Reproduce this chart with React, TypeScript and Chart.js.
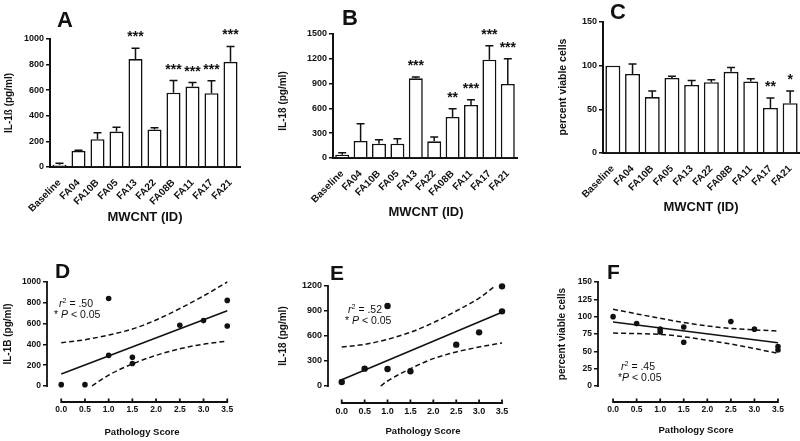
import React, { useEffect, useRef } from "react";
import { Chart, registerables } from "chart.js";
Chart.register(...registerables);

const FONT = "'Liberation Sans', Arial, Helvetica, sans-serif";
Chart.defaults.font.family = FONT;
const INK = "#111";

// ---------- Data: bar panels ----------
const categories = ["Baseline", "FA04", "FA10B", "FA05", "FA13", "FA22", "FA08B", "FA11", "FA17", "FA21"];

const il1bMean = [18, 126, 217, 277, 843, 293, 581, 628, 576, 822];
const il1bErr = [11, 4, 50, 34, 84, 13, 94, 32, 97, 120];
const il1bStars = ["", "", "", "", "***", "", "***", "***", "***", "***"];
const il1bTicks = [0, 200, 400, 600, 800, 1000];

const il18Mean = [40, 206, 173, 173, 964, 202, 496, 641, 1190, 895];
const il18Err = [25, 209, 49, 61, 16, 52, 101, 65, 169, 307];
const il18Stars = ["", "", "", "", "***", "", "**", "***", "***", "***"];
const il18Ticks = [0, 300, 600, 900, 1200, 1500];

const viabMean = [100, 90.5, 64, 86, 78, 81, 93, 82, 51.5, 57];
const viabErr = [0, 11.5, 7, 2, 5, 3, 5, 3, 11.5, 14];
const viabStars = ["", "", "", "", "", "", "", "", "**", "*"];
const viabTicks = [0, 50, 100, 150];

// ---------- Data: scatter panels ----------
const scoreTicks = [0, 0.5, 1, 1.5, 2, 2.5, 3, 3.5];

const scoreD = [0, 0.5, 1, 1, 1.5, 1.5, 2.5, 3, 3.5, 3.5];
const il1bD = [13, 13, 842, 294, 277, 216, 584, 629, 823, 577];
const fitDx = [0, 3.5];
const fitDy = [116, 723];
const upperDx = [0, 0.5, 1, 1.5, 2, 2.5, 3, 3.5];
const upperDy = [416, 445, 490, 548, 635, 745, 866, 1000];
const lowerDx = [0.65, 1, 1.5, 2, 2.5, 3, 3.5];
const lowerDy = [0, 105, 212, 295, 358, 402, 432];
const ticksD = [0, 200, 400, 600, 800, 1000];

const scoreE = [0, 0.5, 1, 1, 1.5, 2.5, 3, 3.5, 3.5];
const il18E = [48, 208, 960, 204, 176, 496, 644, 1196, 896];
const fitEx = [0, 3.5];
const fitEy = [76, 884];
const upperEx = [0, 0.5, 1, 1.5, 2, 2.5, 3, 3.35];
const upperEy = [468, 500, 560, 645, 760, 900, 1055, 1200];
const lowerEx = [0.85, 1, 1.5, 2, 2.5, 3, 3.5];
const lowerEy = [0, 60, 208, 328, 408, 468, 516];
const ticksE = [0, 300, 600, 900, 1200];

const scoreF = [0, 0.5, 1, 1, 1.5, 1.5, 2.5, 3, 3.5, 3.5];
const viabF = [100, 90, 82, 78, 85, 63, 93, 82, 57, 52];
const fitFx = [0, 3.5];
const fitFy = [92.4, 62.4];
const upperFx = [0, 0.5, 1, 1.5, 2, 2.5, 3, 3.5];
const upperFy = [110.8, 104, 97.7, 91.5, 86.6, 83, 81, 79.3];
const lowerFx = [0, 0.5, 1, 1.5, 2, 2.5, 3, 3.5];
const lowerFy = [76.4, 75.6, 74.5, 71, 66, 60.5, 54, 47];
const ticksF = [0, 25, 50, 75, 100, 125, 150];

// ---------- helpers ----------
const W = 800;
const H = 441;
const zip = (xs: number[], ys: number[]) => xs.map((x, i) => ({ x, y: ys[i] }));

type Area = { left: number; top: number; right: number; bottom: number };
const pad = (a: Area, yW: number, xH: number) => ({
  left: a.left - yW,
  top: a.top,
  right: W - a.right,
  bottom: H - a.bottom - xH,
});

type Seg = { t: string; italic?: boolean; sup?: boolean };
type TextItem = {
  text?: string;
  segs?: Seg[];
  x: number;
  y: number;
  size: number;
  bold?: boolean;
  align?: CanvasTextAlign;
  baseline?: CanvasTextBaseline;
  rot?: number;
};

const textPlugin = (items: TextItem[]) => ({
  id: "texts",
  afterDraw(chart: any) {
    const ctx = chart.ctx as CanvasRenderingContext2D;
    items.forEach((it) => {
      ctx.save();
      ctx.fillStyle = INK;
      ctx.translate(it.x, it.y);
      if (it.rot) ctx.rotate(it.rot);
      ctx.textAlign = it.align || "left";
      ctx.textBaseline = it.baseline || "alphabetic";
      if (it.text) {
        ctx.font = `${it.bold ? "bold " : ""}${it.size}px ${FONT}`;
        ctx.fillText(it.text, 0, 0);
      } else if (it.segs) {
        let cx = 0;
        it.segs.forEach((s) => {
          const size = s.sup ? it.size * 0.68 : it.size;
          ctx.font = `${s.italic ? "italic " : ""}${size}px ${FONT}`;
          ctx.textAlign = "left";
          ctx.fillText(s.t, cx, s.sup ? -it.size * 0.4 : 0);
          cx += ctx.measureText(s.t).width;
        });
      }
      ctx.restore();
    });
  },
});

const errorPlugin = (err: number[], stars: string[]) => ({
  id: "errbars",
  afterDatasetsDraw(chart: any) {
    const ctx = chart.ctx as CanvasRenderingContext2D;
    const meta = chart.getDatasetMeta(0);
    const ys = chart.scales.y;
    const vals = chart.data.datasets[0].data as number[];
    ctx.save();
    ctx.strokeStyle = INK;
    ctx.fillStyle = INK;
    ctx.lineWidth = 1.5;
    meta.data.forEach((bar: any, i: number) => {
      const top = ys.getPixelForValue(vals[i] + err[i]);
      if (err[i] > 0) {
        ctx.beginPath();
        ctx.moveTo(bar.x, bar.y);
        ctx.lineTo(bar.x, top);
        ctx.moveTo(bar.x - 4, top);
        ctx.lineTo(bar.x + 4, top);
        ctx.stroke();
      }
      if (stars[i]) {
        ctx.font = `bold 14px ${FONT}`;
        ctx.textAlign = "center";
        ctx.textBaseline = "alphabetic";
        ctx.fillText(stars[i], bar.x, top - 7);
      }
    });
    ctx.restore();
  },
});

const scatterAxes = (yMax: number) => ({
  id: "scatterAxes",
  afterDraw(chart: any) {
    const ctx = chart.ctx as CanvasRenderingContext2D;
    const { chartArea, scales } = chart;
    const x = scales.x;
    const y = scales.y;
    ctx.save();
    ctx.strokeStyle = INK;
    ctx.lineWidth = 1.8;
    ctx.beginPath();
    ctx.moveTo(chartArea.left, y.getPixelForValue(0) + 0.9);
    ctx.lineTo(chartArea.left, y.getPixelForValue(yMax) - 0.9);
    const yb = chartArea.bottom;
    ctx.moveTo(x.getPixelForValue(scoreTicks[0]) - 0.9, yb);
    ctx.lineTo(x.getPixelForValue(scoreTicks[scoreTicks.length - 1]) + 0.9, yb);
    scoreTicks.forEach((v) => {
      const px = x.getPixelForValue(v);
      ctx.moveTo(px, yb);
      ctx.lineTo(px, yb - 3.5);
    });
    ctx.stroke();
    ctx.restore();
  },
});

const plain = (v: any) => String(v);

function barConfig(p: {
  mean: number[];
  err: number[];
  stars: string[];
  ticks: number[];
  area: Area;
  barPct: number;
  texts: TextItem[];
}) {
  const max = p.ticks[p.ticks.length - 1];
  return {
    type: "bar",
    data: {
      labels: categories,
      datasets: [
        {
          data: p.mean,
          backgroundColor: "#ffffff",
          borderColor: INK,
          borderWidth: 1.6,
          borderSkipped: "bottom",
          barPercentage: p.barPct,
          categoryPercentage: 1,
        },
      ],
    },
    options: {
      responsive: false,
      animation: false,
      events: [],
      layout: { padding: pad(p.area, 30, 50) },
      plugins: { legend: { display: false }, tooltip: { enabled: false } },
      scales: {
        x: {
          grid: { display: false },
          border: { display: true, color: INK, width: 2 },
          ticks: {
            color: INK,
            font: { size: 10, weight: "bold" },
            minRotation: 45,
            maxRotation: 45,
            autoSkip: false,
            padding: 2,
          },
          afterFit(s: any) {
            s.height = 50;
            s.paddingLeft = 0;
            s.paddingRight = 0;
          },
        },
        y: {
          min: 0,
          max,
          afterBuildTicks(s: any) {
            s.ticks = p.ticks.map((v) => ({ value: v }));
          },
          grid: { drawOnChartArea: false, drawTicks: true, tickLength: 4, color: INK, lineWidth: 1.5 },
          border: { display: true, color: INK, width: 2 },
          ticks: { color: INK, font: { size: 9, weight: "bold" }, padding: 2, callback: plain },
          afterFit(s: any) {
            s.width = 30;
            s.paddingTop = 0;
            s.paddingBottom = 0;
          },
        },
      },
    },
    plugins: [errorPlugin(p.err, p.stars), textPlugin(p.texts)],
  };
}

function scatterConfig(p: {
  px: number[];
  py: number[];
  fx: number[];
  fy: number[];
  ux: number[];
  uy: number[];
  lx: number[];
  ly: number[];
  yTicks: number[];
  yMin: number;
  xMin: number;
  area: Area;
  radius: number;
  tickSize: number;
  texts: TextItem[];
}) {
  const yMax = p.yTicks[p.yTicks.length - 1];
  const dash = {
    showLine: true,
    pointRadius: 0,
    borderColor: INK,
    borderWidth: 1.5,
    borderDash: [5, 3],
    cubicInterpolationMode: "monotone",
    clip: false,
  };
  return {
    type: "scatter",
    data: {
      datasets: [
        {
          data: zip(p.px, p.py),
          pointRadius: p.radius,
          pointBackgroundColor: INK,
          pointBorderColor: INK,
          pointBorderWidth: 0,
          clip: false,
        },
        { data: zip(p.fx, p.fy), showLine: true, pointRadius: 0, borderColor: INK, borderWidth: 1.6, clip: false },
        { data: zip(p.ux, p.uy), ...dash },
        { data: zip(p.lx, p.ly), ...dash },
      ],
    },
    options: {
      responsive: false,
      animation: false,
      events: [],
      layout: { padding: pad(p.area, 30, 20) },
      plugins: { legend: { display: false }, tooltip: { enabled: false } },
      scales: {
        x: {
          type: "linear",
          min: p.xMin,
          max: 3.6,
          afterBuildTicks(s: any) {
            s.ticks = scoreTicks.map((v) => ({ value: v }));
          },
          grid: { display: false, drawTicks: false, tickLength: 0 },
          border: { display: false },
          ticks: {
            color: INK,
            font: { size: p.tickSize, weight: "bold" },
            padding: 3,
            maxRotation: 0,
            autoSkip: false,
            callback: (v: any) => Number(v).toFixed(1),
          },
          afterFit(s: any) {
            s.height = 20;
            s.paddingLeft = 0;
            s.paddingRight = 0;
          },
        },
        y: {
          min: p.yMin,
          max: yMax,
          afterBuildTicks(s: any) {
            s.ticks = p.yTicks.map((v) => ({ value: v }));
          },
          grid: { drawOnChartArea: false, drawTicks: true, tickLength: 4, color: INK, lineWidth: 1.5 },
          border: { display: false },
          ticks: { color: INK, font: { size: p.tickSize, weight: "bold" }, padding: 2, callback: plain },
          afterFit(s: any) {
            s.width = 30;
            s.paddingTop = 0;
            s.paddingBottom = 0;
          },
        },
      },
    },
    plugins: [scatterAxes(yMax), textPlugin(p.texts)],
  };
}

const rot = -Math.PI / 2;
const ytitle = (text: string, x: number, y: number, size = 10): TextItem => ({
  text, x, y, size, bold: true, align: "center", baseline: "middle", rot,
});
const letter = (text: string, x: number, y: number, size: number): TextItem => ({ text, x, y, size, bold: true });
const xtitle = (text: string, x: number, y: number, size: number): TextItem => ({
  text, x, y, size, bold: true, align: "center",
});
const rsq = (val: string, x: number, y: number): TextItem => ({
  segs: [{ t: "r", italic: true }, { t: "2", sup: true }, { t: " = " + val }],
  x, y, size: 10.5,
});
const pval = (star: string, x: number, y: number): TextItem => ({
  segs: [{ t: star }, { t: "P", italic: true }, { t: " < 0.05" }],
  x, y, size: 10.5,
});

const configs = [
  () =>
    barConfig({
      mean: il1bMean, err: il1bErr, stars: il1bStars, ticks: il1bTicks,
      area: { left: 50, top: 39, right: 240, bottom: 167 }, barPct: 0.74,
      texts: [letter("A", 57, 27, 22), ytitle("IL-1ß (pg/ml)", 9, 103), xtitle("MWCNT (ID)", 145, 221, 13)],
    }),
  () =>
    barConfig({
      mean: il18Mean, err: il18Err, stars: il18Stars, ticks: il18Ticks,
      area: { left: 333, top: 34, right: 517, bottom: 158 }, barPct: 0.76,
      texts: [letter("B", 342, 25, 22), ytitle("IL-18 (pg/ml)", 283, 101), xtitle("MWCNT (ID)", 426, 216, 13)],
    }),
  () =>
    barConfig({
      mean: viabMean, err: viabErr, stars: viabStars, ticks: viabTicks,
      area: { left: 603, top: 22, right: 800, bottom: 153 }, barPct: 0.76,
      texts: [letter("C", 610, 19, 22), ytitle("percent viable cells", 563, 87, 10.5), xtitle("MWCNT (ID)", 701, 211, 13)],
    }),
  () =>
    scatterConfig({
      px: scoreD, py: il1bD, fx: fitDx, fy: fitDy, ux: upperDx, uy: upperDy, lx: lowerDx, ly: lowerDy,
      yTicks: ticksD, yMin: -154, xMin: -0.3, area: { left: 47, top: 282, right: 232, bottom: 402 },
      radius: 2.8, tickSize: 8.5,
      texts: [
        letter("D", 55, 278, 21), ytitle("IL-1B (pg/ml)", 8.5, 334), xtitle("Pathology Score", 142, 435, 9.5),
        rsq(".50", 59, 307), pval("* ", 54, 318),
      ],
    }),
  () =>
    scatterConfig({
      px: scoreE, py: il18E, fx: fitEx, fy: fitEy, ux: upperEx, uy: upperEy, lx: lowerEx, ly: lowerEy,
      yTicks: ticksE, yMin: -204, xMin: -0.3, area: { left: 328, top: 286, right: 506.6, bottom: 403 },
      radius: 3.2, tickSize: 9,
      texts: [
        letter("E", 330, 280, 21), ytitle("IL-18 (pg/ml)", 283.5, 336), xtitle("Pathology Score", 423, 434, 9.5),
        rsq(".52", 348, 313), pval("* ", 345, 323.5),
      ],
    }),
  () =>
    scatterConfig({
      px: scoreF, py: viabF, fx: fitFx, fy: fitFy, ux: upperFx, uy: upperFy, lx: lowerFx, ly: lowerFy,
      yTicks: ticksF, yMin: -23.1, xMin: -0.32, area: { left: 598, top: 282, right: 782.7, bottom: 402 },
      radius: 2.8, tickSize: 8.5,
      texts: [
        letter("F", 607, 279, 21), ytitle("percent viable cells", 562, 334), xtitle("Pathology Score", 696, 433, 9.5),
        rsq(".45", 621, 370), pval("*", 618, 381),
      ],
    }),
];

function Panel({ make }: { make: () => any }) {
  const ref = useRef<HTMLCanvasElement | null>(null);
  useEffect(() => {
    if (!ref.current) return;
    const chart = new Chart(ref.current, make());
    return () => chart.destroy();
  }, [make]);
  return (
    <canvas
      ref={ref}
      width={W}
      height={H}
      style={{ position: "absolute", left: 0, top: 0, width: W, height: H }}
    />
  );
}

export default function App() {
  return (
    <div
      style={{
        position: "absolute",
        left: 0,
        top: 0,
        width: W,
        height: H,
        background: "#fff",
        overflow: "hidden",
      }}
    >
      {configs.map((m, i) => (
        <Panel key={i} make={m} />
      ))}
    </div>
  );
}
